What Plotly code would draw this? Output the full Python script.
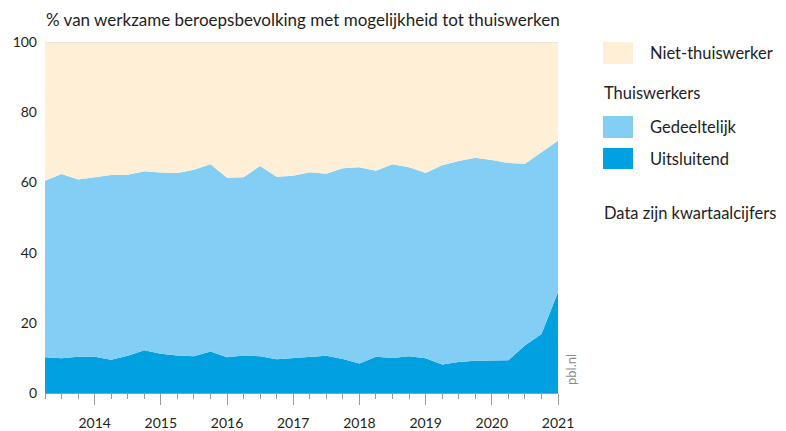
import plotly.graph_objects as go

# ---- data ----
periods = [2013.25, 2013.5, 2013.75, 2014.0, 2014.25, 2014.5, 2014.75, 2015.0,
           2015.25, 2015.5, 2015.75, 2016.0, 2016.25, 2016.5, 2016.75, 2017.0,
           2017.25, 2017.5, 2017.75, 2018.0, 2018.25, 2018.5, 2018.75, 2019.0,
           2019.25, 2019.5, 2019.75, 2020.0, 2020.25, 2020.5, 2020.75, 2021.0]

uitsluitend = [10.2, 9.9, 10.3, 10.3, 9.5, 10.6, 12.2, 11.2, 10.7, 10.5, 11.8, 10.2,
               10.7, 10.5, 9.6, 10.0, 10.3, 10.6, 9.7, 8.4, 10.3, 10.0, 10.5, 9.9,
               8.1, 8.8, 9.2, 9.2, 9.3, 13.5, 16.8, 28.7]

gedeeltelijk = [50.3, 52.5, 50.5, 51.1, 52.6, 51.6, 51.0, 51.6, 52.0, 53.1, 53.4, 51.1,
                50.8, 54.2, 52.0, 51.9, 52.6, 51.9, 54.3, 55.9, 53.0, 55.2, 53.8, 52.8,
                56.8, 57.3, 57.8, 57.2, 56.2, 51.8, 51.8, 43.2]

niet_thuiswerker = [39.5, 37.6, 39.2, 38.6, 37.9, 37.8, 36.8, 37.2, 37.3, 36.4, 34.8, 38.7,
                    38.5, 35.3, 38.4, 38.1, 37.1, 37.5, 36.0, 35.7, 36.7, 34.8, 35.7, 37.3,
                    35.1, 33.9, 33.0, 33.6, 34.5, 34.7, 31.4, 28.1]

year_ticks = [2014, 2015, 2016, 2017, 2018, 2019, 2020, 2021]
y_ticks = [0, 20, 40, 60, 80, 100]

title = "% van werkzame beroepsbevolking met mogelijkheid tot thuiswerken"

C_NIET = "#FEEFD6"
C_GED = "#82CEF4"
C_UIT = "#00A0E1"
TXT = "#1e1e1e"
FONT = "Lato"

# ---- layout geometry (pixels, in the reference picture) ----
OFF = 8                       # page body margin
W, H = 786 - OFF, 431 - OFF
L, R, T, B = 45, 558, 42, 393


def px(x):
    return (x - L) / (R - L)


def py(y):
    return (B - y) / (B - T)


fig = go.Figure()
for name, vals, col in [("Uitsluitend", uitsluitend, C_UIT),
                        ("Gedeeltelijk", gedeeltelijk, C_GED),
                        ("Niet-thuiswerker", niet_thuiswerker, C_NIET)]:
    fig.add_trace(go.Scatter(x=periods, y=vals, name=name, mode="lines",
                             stackgroup="one", line=dict(width=0, color=col),
                             fillcolor=col, showlegend=False))

shapes = [
    dict(type="line", xref="paper", yref="y", x0=0, x1=1, y0=100, y1=100,
         line=dict(color="#dcdcdc", width=1)),
]
annotations = [
    dict(text=title, xref="paper", yref="paper", x=px(44), y=py(19),
         xanchor="left", yanchor="middle", showarrow=False,
         font=dict(size=17, color=TXT, family=FONT)),
    dict(text="pbl.nl", xref="paper", yref="paper", x=px(571), y=py(370),
         xanchor="center", yanchor="middle", showarrow=False, textangle=-90,
         font=dict(size=13, color="#8a8a8a", family=FONT)),
]

legend_items = [
    ("Niet-thuiswerker", C_NIET, 42, 64),
    ("Gedeeltelijk", C_GED, 116, 138),
    ("Uitsluitend", C_UIT, 148, 169),
]
for label, col, y0, y1 in legend_items:
    shapes.append(dict(type="rect", xref="paper", yref="paper",
                       x0=px(603), x1=px(633), y0=py(y1), y1=py(y0),
                       fillcolor=col, line=dict(width=0)))
    annotations.append(dict(text=label, xref="paper", yref="paper",
                            x=px(648), y=py((y0 + y1) / 2), xanchor="left",
                            yanchor="middle", showarrow=False,
                            font=dict(size=16.5, color=TXT, family=FONT)))
for label, yc in [("Thuiswerkers", 93), ("Data zijn kwartaalcijfers", 213)]:
    annotations.append(dict(text=label, xref="paper", yref="paper",
                            x=px(602), y=py(yc), xanchor="left",
                            yanchor="middle", showarrow=False,
                            font=dict(size=16.5, color=TXT, family=FONT)))

fig.update_layout(
    width=W, height=H,
    margin=dict(l=L - OFF, r=786 - R, t=T - OFF, b=431 - B, pad=0),
    paper_bgcolor="white", plot_bgcolor="white",
    font=dict(family=FONT, color=TXT, size=14),
    shapes=shapes, annotations=annotations,
    xaxis=dict(range=[periods[0], 2021], tickvals=year_ticks,
               ticktext=[str(y) for y in year_ticks], automargin=False,
               showgrid=False, zeroline=False, showline=True,
               linecolor="#9a9a9a", linewidth=1,
               ticks="outside", ticklen=11, tickwidth=1, tickcolor="#9a9a9a",
               ticklabelstandoff=6,
               minor=dict(dtick=0.25, tick0=2013, ticks="outside", ticklen=5,
                          tickwidth=1, tickcolor="#9a9a9a", showgrid=False),
               tickfont=dict(size=14, color=TXT, family=FONT)),
    yaxis=dict(range=[0, 100], tickvals=y_ticks, showgrid=False,
               automargin=False,
               zeroline=False, showline=False, ticks="",
               ticklabelstandoff=7,
               tickfont=dict(size=14, color=TXT, family=FONT)),
)

fig.write_html("out.html")
